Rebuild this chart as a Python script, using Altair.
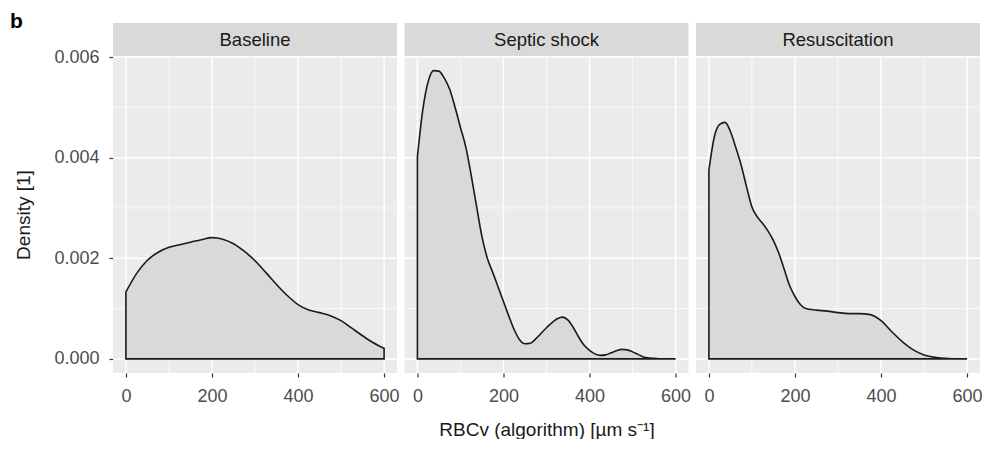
import altair as alt
import pandas as pd

PANELS = ["Baseline", "Septic shock", "Resuscitation"]
PANEL_LETTER = "b"
X_TITLE = "RBCv (algorithm) [µm s⁻¹]"
Y_TITLE = "Density [1]"

X_TICKS = [0, 200, 400, 600]
X_MINOR = [100, 300, 500]
Y_TICKS = [0.0, 0.002, 0.004, 0.006]
Y_MINOR = [0.001, 0.003, 0.005]

baseline_x = [0, 25, 50, 75, 100, 125, 150, 175, 200, 225, 250, 275, 300, 325, 350,
              375, 400, 425, 450, 475, 500, 525, 550, 575, 600]
baseline_y = [0.00133, 0.00170, 0.00196, 0.00212, 0.00222, 0.00227, 0.00232, 0.00237,
              0.00241, 0.00238, 0.00229, 0.00214, 0.00195, 0.00172, 0.00148, 0.00126,
              0.00108, 0.00097, 0.00092, 0.00086, 0.00076, 0.00061, 0.00046, 0.00032,
              0.00021]

septic_x = [0, 12.5, 25, 37.5, 50, 62.5, 75, 87.5, 100, 112.5, 125, 137.5, 150, 162.5,
            175, 187.5, 200, 212.5, 225, 237.5, 250, 262.5, 275, 300, 325, 337.5, 350,
            362.5, 375, 387.5, 400, 412.5, 425, 437.5, 450, 462.5, 475, 487.5, 500,
            512.5, 525, 550, 575, 600]
septic_y = [0.00402, 0.00495, 0.00551, 0.00573, 0.00572, 0.00558, 0.00536, 0.00500,
            0.00460, 0.00421, 0.00365, 0.00303, 0.00243, 0.00200, 0.00172, 0.00143,
            0.00114, 0.00085, 0.00058, 0.00038, 0.00030, 0.00031, 0.00040, 0.00062,
            0.00080, 0.00083, 0.00077, 0.00062, 0.00043, 0.00027, 0.00017, 0.00010,
            0.00007, 0.00008, 0.00012, 0.00016, 0.00019, 0.00018, 0.00014, 0.00009,
            0.00004, 0.00001, 0.0, 0.0]

resus_x = [0, 12.5, 25, 37.5, 50, 62.5, 75, 87.5, 100, 112.5, 125, 137.5, 150, 162.5,
           175, 187.5, 200, 212.5, 225, 250, 275, 300, 325, 350, 375, 400, 425, 450,
           475, 500, 525, 550, 575, 600]
resus_y = [0.00375, 0.00441, 0.00466, 0.00470, 0.00452, 0.00420, 0.00385, 0.00342,
           0.00302, 0.00282, 0.00269, 0.00254, 0.00235, 0.00210, 0.00178, 0.00146,
           0.00124, 0.00108, 0.00100, 0.00097, 0.00095, 0.00092, 0.00090, 0.00090,
           0.00088, 0.00076, 0.00054, 0.00034, 0.00018, 0.00008, 0.00003, 0.00001,
           0.0, 0.0]

SERIES = [(baseline_x, baseline_y), (septic_x, septic_y), (resus_x, resus_y)]

W, H = 284, 317
FONT = "Liberation Sans"
xscale = alt.Scale(domain=[-30, 630], nice=False, zero=False)
yscale = alt.Scale(domain=[-0.00028, 0.00602], nice=False, zero=False)


def panel(i):
    name = PANELS[i]
    xs, ys = SERIES[i]
    df = pd.DataFrame({"x": xs, "y": ys})

    vmaj = alt.Chart(pd.DataFrame({"v": X_TICKS})).mark_rule(
        color="white", strokeWidth=1.5).encode(x=alt.X("v:Q", scale=xscale, axis=None))
    vmin = alt.Chart(pd.DataFrame({"v": X_MINOR})).mark_rule(
        color="white", strokeWidth=0.7).encode(x=alt.X("v:Q", scale=xscale, axis=None))
    hmaj = alt.Chart(pd.DataFrame({"v": Y_TICKS})).mark_rule(
        color="white", strokeWidth=1.5).encode(y=alt.Y("v:Q", scale=yscale, axis=None))
    hmin = alt.Chart(pd.DataFrame({"v": Y_MINOR})).mark_rule(
        color="white", strokeWidth=0.7).encode(y=alt.Y("v:Q", scale=yscale, axis=None))

    xaxis = alt.Axis(values=X_TICKS, title=X_TITLE if i == 1 else None, grid=False,
                     domain=False, tickColor="#333333", tickWidth=1.2, tickSize=4,
                     labelColor="#4d4d4d", labelFontSize=18, labelPadding=10,
                     labelFont=FONT, titleFont=FONT, titleFontSize=19,
                     titleFontWeight="normal", titleColor="#1a1a1a", titlePadding=15,
                     labelFlush=False)
    if i == 0:
        yaxis = alt.Axis(values=Y_TICKS, format=".3f", title=Y_TITLE, grid=False,
                         domain=False, tickColor="#333333", tickWidth=1.2, tickSize=4,
                         labelColor="#4d4d4d", labelFontSize=18, labelPadding=10,
                         labelFont=FONT, titleFont=FONT, titleFontSize=19,
                         titleFontWeight="normal", titleColor="#1a1a1a",
                         titlePadding=20, labelFlush=False)
    else:
        yaxis = None

    area_enc = dict(x=alt.X("x:Q", scale=xscale, axis=xaxis), y2=alt.datum(0))
    if yaxis is None:
        area_enc["y"] = alt.Y("y:Q", scale=yscale, axis=None)
    else:
        area_enc["y"] = alt.Y("y:Q", scale=yscale, axis=yaxis)
    area = alt.Chart(df).mark_area(
        fill="#d9d9d9", fillOpacity=1, stroke="#1a1a1a", strokeWidth=1.6,
        interpolate="monotone").encode(**area_enc)

    strip = alt.Chart(pd.DataFrame({"label": [name]})).mark_rect(fill="#d9d9d9").encode(
        x=alt.value(0), x2=alt.value(W), y=alt.value(-33), y2=alt.value(0))
    strip_text = alt.Chart(pd.DataFrame({"label": [name]})).mark_text(
        fontSize=18.5, font=FONT, color="#1a1a1a", align="center", baseline="middle").encode(
        text="label:N", x=alt.value(W / 2), y=alt.value(-16))

    layers = [vmin, hmin, vmaj, hmaj, area, strip, strip_text]
    if i == 0:
        letter = alt.Chart(pd.DataFrame({"t": [PANEL_LETTER]})).mark_text(
            fontSize=21, fontWeight="bold", font=FONT, color="black",
            align="left", baseline="alphabetic").encode(
            text="t:N", x=alt.value(-103), y=alt.value(-28))
        layers.append(letter)
    return alt.layer(*layers).resolve_axis(x="independent", y="independent").properties(
        width=W, height=H)


chart = alt.hconcat(panel(0), panel(1), panel(2), spacing=7.5, bounds="flush").properties(
    padding={"left": 2, "top": 3, "right": 0, "bottom": 0},
    background="white",
).configure_view(fill="#ebebeb", stroke="#ebebeb", strokeWidth=0)

chart.save("out.html", embed_options={"renderer": "svg", "actions": False})
